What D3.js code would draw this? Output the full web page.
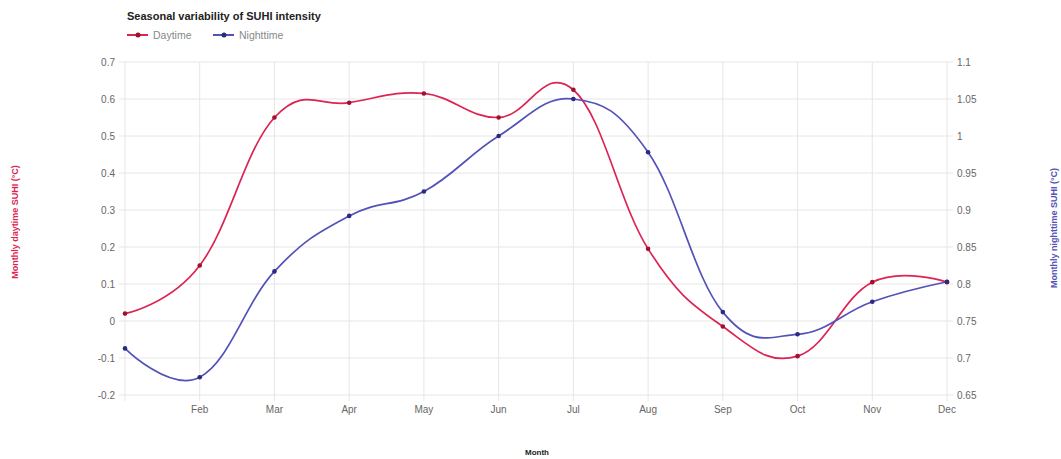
<!DOCTYPE html>
<html><head><meta charset="utf-8">
<script src="https://cdn.jsdelivr.net/npm/d3@7"></script>
<style>body{margin:0;background:#fff;}svg{display:block;font-family:"Liberation Sans",Arial,sans-serif;}</style>
</head><body>
<svg id="c" width="1061" height="459"></svg>
<script>
const months = ["Jan","Feb","Mar","Apr","May","Jun","Jul","Aug","Sep","Oct","Nov","Dec"];
const monthLabels = ["","Feb","Mar","Apr","May","Jun","Jul","Aug","Sep","Oct","Nov","Dec"];
const daytime = [0.02,0.15,0.55,0.59,0.615,0.55,0.625,0.195,-0.015,-0.095,0.105,0.105];
const nighttime = [0.713,0.674,0.817,0.892,0.925,1.0,1.05,0.978,0.762,0.732,0.776,0.803];
const leftTicks = [-0.2,-0.1,0,0.1,0.2,0.3,0.4,0.5,0.6,0.7];
const rightTicks = [0.65,0.7,0.75,0.8,0.85,0.9,0.95,1,1.05,1.1];

const redC = "#dc2453", redM = "#a0102f";
const blueC = "#5252b8", blueM = "#2a2a80";
const svg = d3.select("#c");
const L = 125, R = 947, T = 62, B = 395;
const x = d3.scalePoint().domain(months).range([L, R]);
const yL = d3.scaleLinear().domain([-0.2, 0.7]).range([B, T]);
const yR = d3.scaleLinear().domain([0.65, 1.1]).range([B, T]);

// grid
const g = svg.append("g");
g.selectAll(".hg").data(leftTicks).join("line")
  .attr("x1", L - 6).attr("x2", R + 6).attr("y1", d => yL(d)).attr("y2", d => yL(d))
  .attr("stroke", "#e6e6e6").attr("stroke-width", 1);
g.selectAll(".vg").data(months).join("line")
  .attr("x1", d => x(d)).attr("x2", d => x(d)).attr("y1", T).attr("y2", B + 6)
  .attr("stroke", "#e6e6e6").attr("stroke-width", 1);

const tickStyle = s => s.attr("fill", "#666").attr("font-size", 10);
svg.append("g").selectAll("text").data(leftTicks).join("text")
  .attr("x", 115).attr("y", d => yL(d)).attr("dy", "0.35em").attr("text-anchor", "end")
  .text(d => String(+d.toFixed(2))).call(tickStyle);
svg.append("g").selectAll("text").data(rightTicks).join("text")
  .attr("x", 957).attr("y", d => yR(d)).attr("dy", "0.35em").attr("text-anchor", "start")
  .text(d => String(+d.toFixed(2))).call(tickStyle);
svg.append("g").selectAll("text").data(months).join("text")
  .attr("x", d => x(d)).attr("y", 409).attr("dy", "0.35em").attr("text-anchor", "middle")
  .text((d, i) => monthLabels[i]).call(tickStyle);

// lines
const curve = d3.curveCardinal.tension(-0.2);
const lineL = d3.line().x((d, i) => x(months[i])).y(d => yL(d)).curve(curve);
const lineR = d3.line().x((d, i) => x(months[i])).y(d => yR(d)).curve(curve);
svg.append("path").attr("d", lineL(daytime)).attr("fill", "none").attr("stroke", redC).attr("stroke-width", 1.7);
svg.append("path").attr("d", lineR(nighttime)).attr("fill", "none").attr("stroke", blueC).attr("stroke-width", 1.7);
svg.append("g").selectAll("circle").data(daytime).join("circle")
  .attr("cx", (d, i) => x(months[i])).attr("cy", d => yL(d)).attr("r", 2.3).attr("fill", redM);
svg.append("g").selectAll("circle").data(nighttime).join("circle")
  .attr("cx", (d, i) => x(months[i])).attr("cy", d => yR(d)).attr("r", 2.3).attr("fill", blueM);

// title
svg.append("text").attr("x", 127).attr("y", 20).attr("font-size", 11).attr("font-weight", "bold")
  .attr("fill", "#222").text("Seasonal variability of SUHI intensity");
// legend
const leg = [{n: "Daytime", c: redC, m: redM, x: 127}, {n: "Nighttime", c: blueC, m: blueM, x: 213}];
leg.forEach(l => {
  svg.append("line").attr("x1", l.x).attr("x2", l.x + 21).attr("y1", 35).attr("y2", 35).attr("stroke", l.c).attr("stroke-width", 2);
  svg.append("circle").attr("cx", l.x + 11).attr("cy", 35).attr("r", 2.5).attr("fill", l.m);
  svg.append("text").attr("x", l.x + 26).attr("y", 35).attr("dy", "0.35em").attr("font-size", 10.5).attr("fill", "#888").text(l.n);
});
// axis titles
svg.append("text").attr("transform", "translate(18,222) rotate(-90)").attr("text-anchor", "middle")
  .attr("font-size", 9).attr("font-weight", "bold").attr("fill", redC).text("Monthly daytime SUHI (°C)");
svg.append("text").attr("transform", "translate(1057,228) rotate(-90)").attr("text-anchor", "middle")
  .attr("font-size", 9).attr("font-weight", "bold").attr("fill", blueC).text("Monthly nighttime SUHI (°C)");
svg.append("text").attr("x", 537).attr("y", 455).attr("text-anchor", "middle")
  .attr("font-size", 8).attr("font-weight", "bold").attr("fill", "#222").text("Month");
</script>
</body></html>
